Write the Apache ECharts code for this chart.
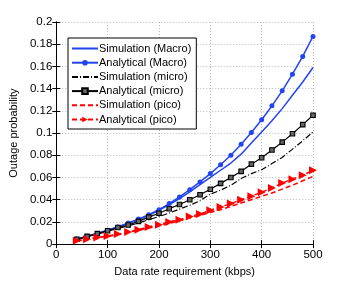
<!DOCTYPE html>
<html><head><meta charset="utf-8">
<script src="https://cdn.jsdelivr.net/npm/echarts@6/dist/echarts.min.js"></script>
<style>html,body{margin:0;padding:0;background:#fff}#c{width:346px;height:282px}</style>
</head><body><div id="c"></div>
<script>
var rates = [40,60,80,100,120,140,160,180,200,220,240,260,280,300,320,340,360,380,400,420,440,460,480,500];
var simMacro = [0.0045,0.007,0.0095,0.0125,0.0155,0.0185,0.022,0.026,0.0305,0.0355,0.041,0.047,0.0535,0.060,0.0665,0.073,0.081,0.091,0.101,0.111,0.122,0.134,0.146,0.159];
var anaMacro = [0.0045,0.007,0.0095,0.0125,0.0155,0.019,0.0225,0.0265,0.031,0.0365,0.0425,0.049,0.056,0.0635,0.0715,0.080,0.090,0.1005,0.112,0.1245,0.138,0.153,0.169,0.187];
var simMicro = [0.004,0.0065,0.009,0.0115,0.014,0.0165,0.019,0.022,0.0248,0.028,0.0315,0.035,0.039,0.045,0.0485,0.053,0.059,0.0635,0.067,0.0725,0.078,0.0855,0.093,0.101];
var anaMicro = [0.0044,0.007,0.0094,0.012,0.0149,0.0172,0.0205,0.0243,0.0278,0.0319,0.0357,0.040,0.0444,0.0494,0.0547,0.060,0.0655,0.072,0.0778,0.0848,0.0918,0.0994,0.1076,0.116];
var simPico = [0.0028,0.0042,0.0057,0.007,0.0085,0.0105,0.0125,0.0145,0.0165,0.0185,0.021,0.0235,0.026,0.0285,0.031,0.034,0.037,0.040,0.043,0.046,0.0495,0.053,0.057,0.061];
var anaPico = [0.003,0.0044,0.006,0.0073,0.009,0.011,0.013,0.0155,0.0175,0.020,0.022,0.0248,0.027,0.0305,0.0335,0.0365,0.040,0.0432,0.0468,0.0506,0.055,0.0585,0.062,0.0665];
var names = ['Simulation (Macro)','Analytical (Macro)','Simulation (micro)','Analytical (micro)','Simulation (pico)','Analytical (pico)'];
var xTicks = [0,100,200,300,400,500];
var yTicks = [0,0.02,0.04,0.06,0.08,0.1,0.12,0.14,0.16,0.18,0.2];

function pairs(v){ return rates.map(function(r,i){ return [r, v[i]]; }); }
var BLUE = '#2244f2', RED = '#ff0000', BLACK = '#000';
var font = 'Liberation Sans, Arial, sans-serif';
var chart = echarts.init(document.getElementById('c'), null, {renderer:'canvas'});
var axBase = {
  axisLine:{show:true,lineStyle:{color:'#000',width:1}},
  axisTick:{show:true,inside:true,length:4,lineStyle:{color:'#000'}},
  axisLabel:{show:false}, splitLine:{show:false}
};
var hidden = {color:'rgba(0,0,0,0)',borderWidth:0,borderColor:'rgba(0,0,0,0)'};
chart.setOption({
  animation:false,
  backgroundColor:'#fff',
  grid:{left:45,right:33,top:22,bottom:32,show:false},
  legend:{
    left:68, top:38, orient:'vertical', itemWidth:26, itemHeight:7, itemGap:1.2,
    padding:[4,5,3,3], borderColor:'#000', borderWidth:1, backgroundColor:'#fff',
    textStyle:{fontFamily:font,fontSize:11,color:'#000',lineHeight:13,padding:[0,0,0,-4]},
    data:[
      {name:names[0],itemStyle:hidden},
      {name:names[1]},
      {name:names[2],itemStyle:hidden},
      {name:names[3]},
      {name:names[4],itemStyle:hidden},
      {name:names[5]}
    ]
  },
  xAxis:[
    Object.assign({}, axBase, {type:'value',min:0,max:500,interval:100,position:'bottom',
      axisLabel:{show:true,fontFamily:font,fontSize:11.5,color:'#000',margin:5,
        formatter:function(v){ return xTicks.indexOf(v)>=0 ? String(v) : ''; }},
      splitLine:{show:true,lineStyle:{color:'#b8b8b8',type:[1,2],width:1}},
      name:'Data rate requirement (kbps)', nameLocation:'middle', nameGap:17,
      nameTextStyle:{fontFamily:font,fontSize:11,color:'#000'}}),
    Object.assign({}, axBase, {type:'value',min:0,max:500,interval:100,position:'top'})
  ],
  yAxis:[
    Object.assign({}, axBase, {type:'value',min:0,max:0.2,interval:0.02,position:'left',
      axisLabel:{show:true,fontFamily:font,fontSize:11.5,color:'#000',margin:4,
        formatter:function(v){ var t = yTicks.filter(function(k){return Math.abs(k-v)<1e-9;}); return t.length ? String(+t[0].toFixed(2)) : ''; }},
      splitLine:{show:true,lineStyle:{color:'#b8b8b8',type:[1,2],width:1}},
      name:'Outage probability', nameLocation:'middle', nameGap:35,
      nameTextStyle:{fontFamily:font,fontSize:11,color:'#000'}}),
    Object.assign({}, axBase, {type:'value',min:0,max:0.2,interval:0.02,position:'right'})
  ],
  series:[
    {name:names[0],type:'line',data:pairs(simMacro),showSymbol:false,symbol:'none',
      lineStyle:{color:BLUE,width:1.5},itemStyle:{color:BLUE},z:2},
    {name:names[1],type:'line',data:pairs(anaMacro),symbol:'circle',symbolSize:5,
      lineStyle:{color:BLUE,width:1.5},itemStyle:{color:BLUE},z:3},
    {name:names[2],type:'line',data:pairs(simMicro),symbol:'none',
      lineStyle:{color:BLACK,width:1.2,type:[6,2,1,2]},itemStyle:{color:BLACK},z:2},
    {name:names[3],type:'line',data:pairs(anaMicro),symbol:'rect',symbolSize:4.5,
      lineStyle:{color:BLACK,width:1.2},itemStyle:{color:'#666',borderColor:BLACK,borderWidth:1.1},z:3},
    {name:names[4],type:'line',data:pairs(simPico),symbol:'none',
      lineStyle:{color:RED,width:1.5,type:[5,3]},itemStyle:{color:RED},z:2},
    {name:names[5],type:'line',data:pairs(anaPico),symbol:'triangle',symbolSize:8,symbolRotate:-90,
      lineStyle:{color:RED,width:1.5,type:[5,3]},itemStyle:{color:RED},z:3}
  ]
});
</script></body></html>
